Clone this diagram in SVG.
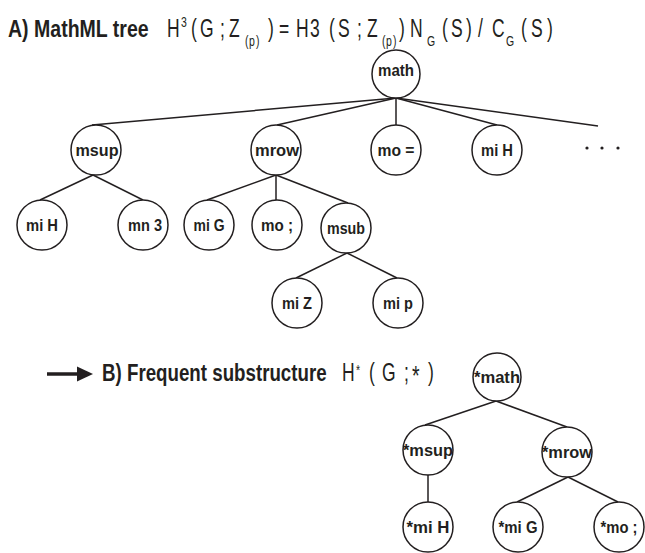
<svg xmlns="http://www.w3.org/2000/svg" width="645" height="553" viewBox="0 0 645 553">
  <style>
    .node circle { fill: #ffffff; stroke: #231f20; stroke-width: 1.5; }
    .node text { font-family: "Liberation Sans", Arial, sans-serif; font-weight: bold; font-size: 17px; fill: #231f20; text-anchor: middle; }
    .edges line { stroke: #231f20; stroke-width: 1.5; }
    .head { font-family: "Liberation Sans", Arial, sans-serif; font-weight: bold; font-size: 24px; fill: #231f20; }
    .eq { font-family: "Liberation Sans", Arial, sans-serif; font-size: 25px; fill: #231f20; }
    .eq .sm { font-size: 15px; }
    .eq .st { font-size: 28px; }
  </style>

  <!-- Title A (condensed by horizontal scale) -->
  <g transform="scale(0.814 1)">
    <text class="head" x="9.8" y="37">A) MathML tree</text>
  </g>
  <!-- Formula A: each glyph placed on its own x, in a 0.7 horizontal scale -->
  <g id="formula-a" transform="scale(0.7 1)">
    <text class="eq" y="37"><tspan x="238.6">H</tspan><tspan class="sm" x="258.6" y="27">3</tspan><tspan x="272.9" y="37">(</tspan><tspan x="285.7">G</tspan><tspan x="314.3">;</tspan><tspan x="327.1">Z</tspan><tspan class="sm" x="350" y="46">(</tspan><tspan class="sm" x="355.7">p</tspan><tspan class="sm" x="365.7">)</tspan><tspan x="382.9" y="37">)</tspan><tspan x="398.6">=</tspan><tspan x="422.9">H</tspan><tspan x="442.9">3</tspan><tspan x="470">(</tspan><tspan x="482.9">S</tspan><tspan x="510">;</tspan><tspan x="524.3">Z</tspan><tspan class="sm" x="545.7" y="46">(</tspan><tspan class="sm" x="551.4">p</tspan><tspan class="sm" x="561.4">)</tspan><tspan x="570" y="37">)</tspan><tspan x="585.7">N</tspan><tspan class="sm" x="610" y="46">G</tspan><tspan x="631.4" y="37">(</tspan><tspan x="644.3">S</tspan><tspan x="665.7">)</tspan><tspan x="682.9">/</tspan><tspan x="702.9">C</tspan><tspan class="sm" x="722.9" y="46">G</tspan><tspan x="744.3" y="37">(</tspan><tspan x="758.6">S</tspan><tspan x="781.4">)</tspan></text>
  </g>

  <!-- Tree A connectors -->
  <g id="edges-a" class="edges">
    <line x1="396" y1="98" x2="92" y2="125"/>
    <line x1="396" y1="98" x2="277" y2="125"/>
    <line x1="396" y1="98" x2="396" y2="125"/>
    <line x1="396" y1="98" x2="497" y2="125"/>
    <line x1="396" y1="98" x2="598" y2="126"/>
    <line x1="93" y1="175" x2="40" y2="200"/>
    <line x1="93" y1="175" x2="143" y2="200"/>
    <line x1="276" y1="175" x2="207" y2="200"/>
    <line x1="276" y1="175" x2="276" y2="200"/>
    <line x1="276" y1="175" x2="348" y2="203"/>
    <line x1="347" y1="253" x2="296" y2="278"/>
    <line x1="347" y1="253" x2="397" y2="278"/>
  </g>

  <!-- Tree A nodes -->
  <g id="tree-a">
    <g id="a-math" class="node"><circle cx="396" cy="74" r="24"/><text x="396" y="76" textLength="36" lengthAdjust="spacingAndGlyphs">math</text></g>
    <g id="a-msup" class="node"><circle cx="96" cy="150" r="25"/><text x="97" y="156" textLength="43" lengthAdjust="spacingAndGlyphs">msup</text></g>
    <g id="a-mrow" class="node"><circle cx="276" cy="150" r="25"/><text x="277" y="156" textLength="44" lengthAdjust="spacingAndGlyphs">mrow</text></g>
    <g id="a-mo-eq" class="node"><circle cx="396" cy="150" r="25"/><text x="396" y="156" textLength="37" lengthAdjust="spacingAndGlyphs">mo =</text></g>
    <g id="a-mi-h" class="node"><circle cx="497" cy="150" r="25"/><text x="497" y="156" textLength="32" lengthAdjust="spacingAndGlyphs">mi H</text></g>
    <g id="a-mi-h2" class="node"><circle cx="42" cy="225" r="25"/><text x="42" y="231" textLength="32" lengthAdjust="spacingAndGlyphs">mi H</text></g>
    <g id="a-mn-3" class="node"><circle cx="143" cy="225" r="25"/><text x="145" y="231" textLength="34" lengthAdjust="spacingAndGlyphs">mn 3</text></g>
    <g id="a-mi-g" class="node"><circle cx="209" cy="225" r="25"/><text x="209" y="231" textLength="31" lengthAdjust="spacingAndGlyphs">mi G</text></g>
    <g id="a-mo-semi" class="node"><circle cx="277" cy="225" r="25"/><text x="277" y="231" textLength="32" lengthAdjust="spacingAndGlyphs">mo ;</text></g>
    <g id="a-msub" class="node"><circle cx="346" cy="228" r="25"/><text x="346" y="234" textLength="38" lengthAdjust="spacingAndGlyphs">msub</text></g>
    <g id="a-mi-z" class="node"><circle cx="297" cy="303" r="25"/><text x="297" y="309" textLength="30" lengthAdjust="spacingAndGlyphs">mi Z</text></g>
    <g id="a-mi-p" class="node"><circle cx="398" cy="303" r="25"/><text x="398" y="309" textLength="30" lengthAdjust="spacingAndGlyphs">mi p</text></g>
    <g id="a-more">
      <circle cx="587" cy="148" r="1.6" fill="#231f20"/>
      <circle cx="602" cy="148" r="1.6" fill="#231f20"/>
      <circle cx="618" cy="148" r="1.6" fill="#231f20"/>
    </g>
  </g>

  <!-- Title B with arrow and formula -->
  <g id="arrow-b">
    <line x1="47" y1="374" x2="79" y2="374" stroke="#231f20" stroke-width="3.5"/>
    <polygon points="77,366.5 93,374 77,381.5" fill="#231f20"/>
  </g>
  <g transform="scale(0.78 1)">
    <text class="head" x="130.8" y="381">B) Frequent substructure</text>
  </g>
  <g id="formula-b" transform="scale(0.7 1)">
    <text class="eq" y="381"><tspan x="488.6">H</tspan><tspan class="sm" x="508.6" y="375">*</tspan><tspan x="527.1" y="381">(</tspan><tspan x="545.7">G</tspan><tspan x="577.1">;</tspan><tspan class="st" x="588.6" y="385">*</tspan><tspan x="611.4" y="381">)</tspan></text>
  </g>

  <!-- Tree B connectors -->
  <g id="edges-b" class="edges">
    <line x1="496" y1="401" x2="425" y2="425"/>
    <line x1="496" y1="401" x2="567" y2="427"/>
    <line x1="428" y1="475" x2="428" y2="502"/>
    <line x1="568" y1="477" x2="517" y2="502"/>
    <line x1="568" y1="477" x2="618" y2="502"/>
  </g>
  <!-- Tree B nodes -->
  <g id="tree-b">
    <g id="b-math" class="node"><circle cx="497" cy="377" r="24"/><text x="497" y="383" textLength="46" lengthAdjust="spacingAndGlyphs">*math</text></g>
    <g id="b-msup" class="node"><circle cx="428" cy="450" r="25"/><text x="428" y="456" textLength="50" lengthAdjust="spacingAndGlyphs">*msup</text></g>
    <g id="b-mrow" class="node"><circle cx="567" cy="452" r="25"/><text x="567" y="458" textLength="50" lengthAdjust="spacingAndGlyphs">*mrow</text></g>
    <g id="b-mi-h" class="node"><circle cx="428" cy="527" r="25"/><text x="428" y="533" textLength="43" lengthAdjust="spacingAndGlyphs">*mi H</text></g>
    <g id="b-mi-g" class="node"><circle cx="518" cy="527" r="25"/><text x="518" y="533" textLength="39" lengthAdjust="spacingAndGlyphs">*mi G</text></g>
    <g id="b-mo-semi" class="node"><circle cx="619" cy="527" r="25"/><text x="619" y="533" textLength="37" lengthAdjust="spacingAndGlyphs">*mo ;</text></g>
  </g>
</svg>
